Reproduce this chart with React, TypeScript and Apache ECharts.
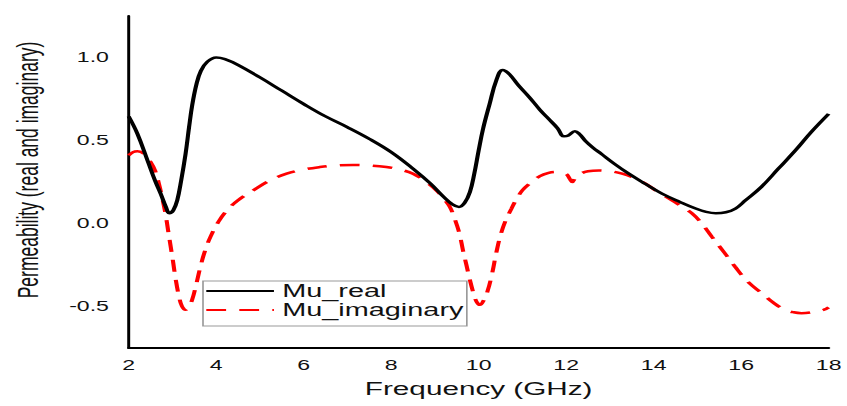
import React, { useEffect, useRef } from "react";
import * as echarts from "echarts";

// The reference image is horizontally stretched; render narrower and stretch by S.
const S = 1.65;
const W = 847;
const H = 406;

const seriesNames = ["Mu_real", "Mu_imaginary"];

const realFreq = [
  2.0, 2.2, 2.43, 2.6, 2.73, 2.85, 2.93, 3.02, 3.11, 3.2, 3.3, 3.38, 3.45, 3.55, 3.65, 3.8, 4.0,
  4.2, 4.5, 5.0, 5.5, 6.0, 6.5, 7.0, 7.5, 8.0, 8.5, 8.9, 9.2, 9.4, 9.55, 9.68, 9.8, 9.9, 10.0,
  10.1, 10.25, 10.4, 10.55, 10.7, 10.9, 11.16, 11.4, 11.6, 11.8, 11.95, 12.05, 12.2, 12.3, 12.45,
  12.6, 12.8, 13.1, 13.43, 13.8, 14.19, 14.6, 14.96, 15.2, 15.42, 15.65, 15.87, 16.1, 16.46,
  16.85, 17.24, 17.6, 18.0,
];
const realVal = [
  0.645, 0.54, 0.38, 0.26, 0.18, 0.1, 0.062, 0.08, 0.14, 0.26, 0.42, 0.58, 0.71, 0.84, 0.92, 0.975, 1.0,
  0.99, 0.955, 0.88, 0.8, 0.72, 0.645, 0.58, 0.51, 0.43, 0.33, 0.24, 0.16, 0.115, 0.1, 0.125, 0.19, 0.3, 0.44,
  0.57, 0.72, 0.86, 0.925, 0.9, 0.835, 0.76, 0.685, 0.63, 0.575, 0.525, 0.53, 0.556, 0.54, 0.495,
  0.46, 0.42, 0.36, 0.3, 0.24, 0.18, 0.13, 0.09, 0.07, 0.062, 0.068, 0.09, 0.14, 0.22,
  0.33, 0.44, 0.55, 0.66,
];

const imagFreq = [
  2.0, 2.1, 2.2, 2.35, 2.5, 2.6, 2.69, 2.77, 2.84, 2.9, 2.96, 3.02, 3.07, 3.15, 3.22, 3.3, 3.37,
  3.45, 3.55, 3.64, 3.75, 3.87, 4.05, 4.25, 4.5, 4.85, 5.2, 5.61, 6.0, 6.37, 6.75, 7.13, 7.5, 7.89,
  8.2, 8.5, 8.8, 9.03, 9.2, 9.34, 9.45, 9.56, 9.64, 9.72, 9.79, 9.87, 9.95, 10.03, 10.12, 10.2,
  10.3, 10.4, 10.5, 10.62, 10.75, 10.85, 11.0, 11.16, 11.4, 11.6, 11.77, 11.99, 12.08, 12.14, 12.22,
  12.33, 12.5, 12.75, 13.0, 13.28, 13.55, 13.81, 14.1, 14.42, 14.65, 14.88, 15.1, 15.33, 15.6,
  15.86, 16.15, 16.47, 16.75, 17.0, 17.2, 17.38, 17.6, 17.88, 18.0,
];
const imagVal = [
  0.41, 0.43, 0.435, 0.42, 0.37, 0.32, 0.24, 0.15, 0.06, -0.04, -0.14, -0.24, -0.33, -0.44, -0.5, -0.52, -0.505,
  -0.46, -0.36, -0.26, -0.16, -0.08, 0.01, 0.08, 0.14, 0.2, 0.255, 0.3, 0.325, 0.34, 0.35, 0.353, 0.35, 0.34,
  0.325, 0.3, 0.25, 0.2, 0.15, 0.1, 0.03, -0.06, -0.16, -0.25, -0.33, -0.41, -0.47, -0.49, -0.46, -0.41,
  -0.31, -0.18, -0.07, 0.02, 0.09, 0.14, 0.2, 0.24, 0.285, 0.305, 0.31, 0.3, 0.27, 0.25, 0.28,
  0.3, 0.315, 0.32, 0.315, 0.3, 0.275, 0.24, 0.19, 0.14, 0.1, 0.06, 0.0, -0.08, -0.17,
  -0.26, -0.35, -0.42, -0.48, -0.52, -0.535, -0.54, -0.535, -0.52, -0.505,
];

const xMin = 2;
const xMax = 18;
const xInterval = 2;
const yMin = -0.75;
const yMax = 1.25;
const yInterval = 0.25;

const FONT = "'Liberation Sans', Arial, Helvetica, sans-serif";

export default function App() {
  const ref = useRef<HTMLDivElement>(null);

  useEffect(() => {
    if (!ref.current) return;
    const chart = echarts.init(ref.current, null, { renderer: "svg" });
    chart.setOption({
      animation: false,
      backgroundColor: "#fff",
      textStyle: { fontFamily: FONT },
      grid: {
        left: 128 / S,
        right: (W - 830) / S,
        top: 16,
        bottom: H - 348,
        containLabel: false,
      },
      legend: {
        data: seriesNames,
        orient: "vertical",
        left: 203 / S,
        top: 281,
        itemWidth: 41,
        itemHeight: 14,
        itemGap: 1,
        padding: [1, 2, 7, 1],
        borderColor: "#999",
        borderWidth: 1,
        backgroundColor: "#fff",
        itemStyle: {
          color: "rgba(0,0,0,0)",
          borderColor: "rgba(0,0,0,0)",
          borderWidth: 0,
        },
        textStyle: { fontSize: 17.5, color: "#111", fontFamily: FONT },
      },
      xAxis: {
        type: "value",
        min: xMin,
        max: xMax,
        interval: xInterval,
        name: "Frequency (GHz)",
        nameLocation: "middle",
        nameGap: 32,
        nameTextStyle: { fontSize: 18, color: "#111", fontFamily: FONT },
        axisLine: { show: true, onZero: false, lineStyle: { color: "#000", width: 2 } },
        axisTick: { show: false },
        splitLine: { show: false },
        axisLabel: { fontSize: 14, color: "#111", margin: 10, fontFamily: FONT },
      },
      yAxis: {
        type: "value",
        min: yMin,
        max: yMax,
        interval: yInterval,
        name: "Permeability (real and imaginary)",
        nameLocation: "middle",
        nameGap: 52,
        nameTextStyle: {
          fontSize: 17.5,
          color: "#111",
          fontFamily: FONT,
          padding: [0, 0, 0, 24],
        },
        axisLine: { show: true, onZero: false, lineStyle: { color: "#000", width: 1.8 } },
        axisTick: { show: false },
        splitLine: { show: false },
        axisLabel: {
          fontSize: 14,
          color: "#111",
          margin: 12,
          fontFamily: FONT,
          formatter: (v: number) =>
            Math.abs(v * 2 - Math.round(v * 2)) < 1e-6 && v < 1.2 ? v.toFixed(1) : "",
        },
      },
      series: [
        {
          name: "Mu_imaginary",
          type: "line",
          data: imagFreq.map((x, i) => [x, imagVal[i]]),
          symbol: "none",
          smooth: 0.4,
          lineStyle: { color: "#ff0000", width: 2.5, type: [12, 8] },
          itemStyle: { color: "#ff0000" },
          z: 2,
        },
        {
          name: "Mu_real",
          type: "line",
          data: realFreq.map((x, i) => [x, realVal[i]]),
          symbol: "none",
          smooth: 0.4,
          lineStyle: { color: "#000", width: 2.5 },
          itemStyle: { color: "#000" },
          z: 3,
        },
      ],
    });
    return () => chart.dispose();
  }, []);

  return (
    <div
      style={{
        position: "absolute",
        left: 0,
        top: 0,
        width: W,
        height: H,
        overflow: "hidden",
        background: "#fff",
      }}
    >
      <div
        ref={ref}
        style={{
          width: W / S,
          height: H,
          transform: `scaleX(${S})`,
          transformOrigin: "0 0",
        }}
      />
    </div>
  );
}
